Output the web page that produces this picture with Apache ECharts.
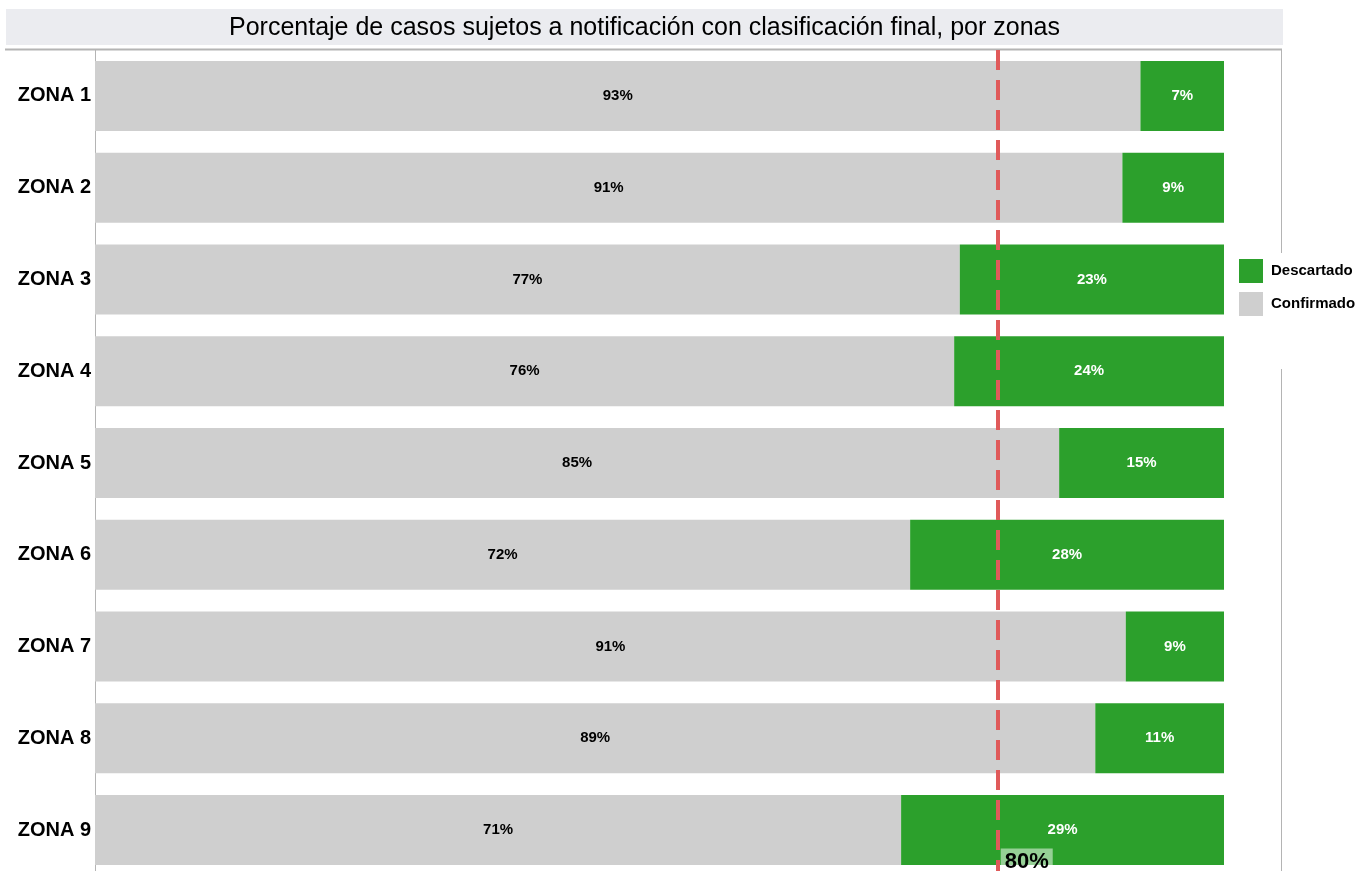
<!DOCTYPE html>
<html>
<head>
<meta charset="utf-8">
<script src="https://cdn.jsdelivr.net/npm/echarts@6/dist/echarts.min.js"></script>
<style>
  html, body { margin: 0; padding: 0; background: #fff; overflow: hidden; }
  #chart { width: 1358px; height: 876px; }
</style>
</head>
<body>
<div id="chart"></div>
<script>
const zonas = ["ZONA 1", "ZONA 2", "ZONA 3", "ZONA 4", "ZONA 5", "ZONA 6", "ZONA 7", "ZONA 8", "ZONA 9"];
const confirmado = [92.6, 91.0, 76.6, 76.1, 85.4, 72.2, 91.3, 88.6, 71.4];
const descartado = [7.4, 9.0, 23.4, 23.9, 14.6, 27.8, 8.7, 11.4, 28.6];
const meta = 80;
const titulo = "Porcentaje de casos sujetos a notificación con clasificación final, por zonas";

const FONT = "Liberation Sans, Arial, sans-serif";
const pct = (p) => Math.round(p.value) + "%";

const chart = echarts.init(document.getElementById("chart"));
chart.setOption({
  animation: false,
  textStyle: { fontFamily: FONT },
  grid: { left: 95, right: 134, top: 50, bottom: 0, containLabel: false },
  legend: {
    orient: "vertical",
    left: 1239,
    top: 259,
    padding: 0,
    itemWidth: 24,
    itemHeight: 24,
    itemGap: 9,
    icon: "rect",
    data: ["Descartado", "Confirmado"],
    textStyle: { fontFamily: FONT, fontWeight: "bold", fontSize: 15, color: "#000", padding: [0, 0, 0, 3] },
  },
  xAxis: { type: "value", min: 0, max: 100, show: false },
  yAxis: {
    type: "category",
    data: zonas,
    inverse: true,
    axisLine: { show: true, lineStyle: { color: "#b4b4b4", width: 1 } },
    axisTick: { show: false },
    axisLabel: { color: "#000", fontWeight: "bold", fontSize: 20, fontFamily: FONT, margin: 4 },
  },
  series: [
    {
      name: "Confirmado",
      type: "bar",
      stack: "total",
      barWidth: 70,
      data: confirmado,
      itemStyle: { color: "#cfcfcf" },
      label: { show: true, position: "inside", formatter: pct, color: "#000", fontWeight: "bold", fontSize: 15, fontFamily: FONT },
      markLine: {
        silent: true,
        symbol: "none",
        label: { show: false },
        lineStyle: { color: "#e05a5a", width: 4, type: [20, 10] },
        data: [{ xAxis: meta }],
      },
      markPoint: {
        silent: true,
        symbol: "rect",
        symbolSize: 1,
        itemStyle: { color: "rgba(0,0,0,0)" },
        label: {
          show: true,
          position: [3, 19],
          formatter: meta + "%",
          color: "#000",
          fontWeight: "bold",
          fontSize: 22,
          fontFamily: FONT,
          backgroundColor: "rgba(255,255,255,0.5)",
          padding: [2, 4, 4, 4],
        },
        data: [{ coord: [meta, zonas[zonas.length - 1]] }],
      },
    },
    {
      name: "Descartado",
      type: "bar",
      stack: "total",
      barWidth: 70,
      data: descartado,
      itemStyle: { color: "#2ca02c" },
      label: { show: true, position: "inside", formatter: pct, color: "#fff", fontWeight: "bold", fontSize: 15, fontFamily: FONT },
    },
  ],
  graphic: [
    { type: "rect", shape: { x: 6, y: 9, width: 1277, height: 36 }, style: { fill: "#ebecf0" }, z: 0 },
    {
      type: "text", x: 644.5, y: 28, z: 1,
      style: { text: titulo, fill: "#000", font: "25px " + FONT, textAlign: "center", textVerticalAlign: "middle" },
    },
    { type: "line", shape: { x1: 5, y1: 49.5, x2: 1282, y2: 49.5 }, style: { stroke: "#b4b4b4", lineWidth: 2 }, z: 0 },
    { type: "line", shape: { x1: 1281.5, y1: 49, x2: 1281.5, y2: 253 }, style: { stroke: "#b4b4b4", lineWidth: 1 }, z: 0 },
    { type: "line", shape: { x1: 1281.5, y1: 369, x2: 1281.5, y2: 876 }, style: { stroke: "#b4b4b4", lineWidth: 1 }, z: 0 },
  ],
});
</script>
</body>
</html>
